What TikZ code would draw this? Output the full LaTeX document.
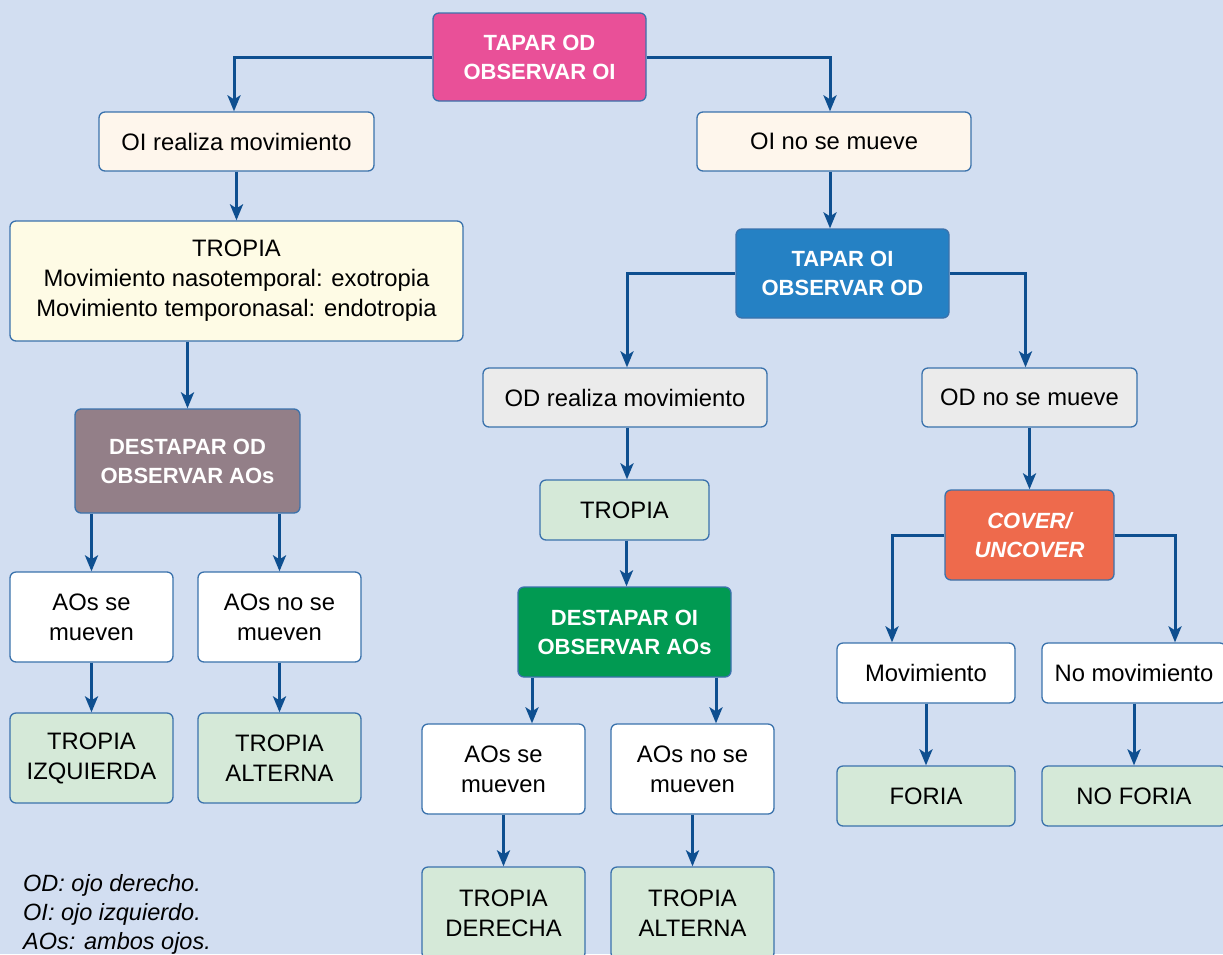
\documentclass[tikz,border=0pt]{standalone}
\usepackage{fontspec}
\setmainfont{Liberation Sans}
\usetikzlibrary{arrows.meta}
\definecolor{bg}{HTML}{D2DEF1}
\definecolor{bordc}{HTML}{3A72AC}
\definecolor{arrc}{HTML}{0E4F90}
\definecolor{pinkc}{HTML}{E95098}
\definecolor{creamc}{HTML}{FEF6EC}
\definecolor{yellowc}{HTML}{FEFBE5}
\definecolor{bluec}{HTML}{2581C4}
\definecolor{mauvec}{HTML}{937F88}
\definecolor{grayc}{HTML}{EBEBEB}
\definecolor{lgreenc}{HTML}{D5E9D8}
\definecolor{orangec}{HTML}{EE6A4C}
\definecolor{greenc}{HTML}{019A52}
\begin{document}
\begin{tikzpicture}[x=1pt,y=-1pt,
  box/.style={draw=bordc, line width=1.3pt, rounded corners=6pt, align=center, inner sep=0pt,
    font=\fontsize{23.8}{30}\selectfont, text=black},
  hbox/.style={box, font=\bfseries\fontsize{22}{29}\selectfont, text=white},
  arr/.style={draw=arrc, line width=3pt, -{Stealth[length=16pt,width=13pt,inset=4pt]}}]
\clip (0,0) rectangle (1223,954);
\fill[bg] (0,0) rectangle (1223,954);
% nodes
\node[hbox, fill=pinkc, minimum width=213pt, minimum height=88pt] (top) at (539.5,57) {TAPAR OD\\OBSERVAR OI};
\node[box, fill=creamc, minimum width=275pt, minimum height=59pt] (oir) at (236.5,141.5) {OI realiza movimiento};
\node[box, fill=creamc, minimum width=274pt, minimum height=59pt] (oin) at (834,141.5) {OI no se mueve};
\node[box, fill=yellowc, minimum width=453pt, minimum height=120pt] (tropA) at (236.5,281) {TROPIA\\Movimiento nasotemporal: exotropia\\Movimiento temporonasal: endotropia};
\node[hbox, fill=bluec, minimum width=213pt, minimum height=89pt] (tapB) at (842.5,273.5) {TAPAR OI\\OBSERVAR OD};
\node[hbox, fill=mauvec, minimum width=225pt, minimum height=104pt] (dod) at (187.5,461) {DESTAPAR OD\\OBSERVAR AOs};
\node[box, fill=grayc, minimum width=284pt, minimum height=59pt] (odr) at (625,397.5) {OD realiza movimiento};
\node[box, fill=grayc, minimum width=215pt, minimum height=59pt] (odn) at (1029.5,397.5) {OD no se mueve};
\node[box, fill=lgreenc, minimum width=169pt, minimum height=60pt] (tropB) at (624.5,510) {TROPIA};
\node[hbox, fill=orangec, minimum width=169pt, minimum height=90pt, font=\bfseries\itshape\fontsize{22}{29}\selectfont] (cov) at (1029.5,535) {COVER/\\UNCOVER};
\node[box, fill=white, minimum width=163pt, minimum height=90pt] (aosLa) at (91.5,617) {AOs se\\mueven};
\node[box, fill=white, minimum width=163pt, minimum height=90pt] (aosLb) at (279.5,617) {AOs no se\\mueven};
\node[hbox, fill=greenc, minimum width=213pt, minimum height=90pt] (doi) at (624.5,632) {DESTAPAR OI\\OBSERVAR AOs};
\node[box, fill=white, minimum width=178pt, minimum height=60pt] (mov) at (926,673) {Movimiento};
\node[box, fill=white, minimum width=184pt, minimum height=60pt] (nomov) at (1134,673) {No movimiento};
\node[box, fill=lgreenc, minimum width=163pt, minimum height=90pt] (tiz) at (91.5,758) {TROPIA\\IZQUIERDA};
\node[box, fill=lgreenc, minimum width=163pt, minimum height=90pt] (talA) at (279.5,758) {TROPIA\\ALTERNA};
\node[box, fill=white, minimum width=163pt, minimum height=90pt] (aosMa) at (503.5,769) {AOs se\\mueven};
\node[box, fill=white, minimum width=163pt, minimum height=90pt] (aosMb) at (692.5,769) {AOs no se\\mueven};
\node[box, fill=lgreenc, minimum width=178pt, minimum height=60pt] (foria) at (926,796) {FORIA};
\node[box, fill=lgreenc, minimum width=184pt, minimum height=60pt] (nofor) at (1134,796) {NO FORIA};
\node[box, fill=lgreenc, minimum width=163pt, minimum height=92pt] (tder) at (503.5,913) {TROPIA\\DERECHA};
\node[box, fill=lgreenc, minimum width=163pt, minimum height=92pt] (talB) at (692.5,913) {TROPIA\\ALTERNA};
\node[anchor=west, align=left, inner sep=0pt, font=\itshape\fontsize{23.5}{29}\selectfont] (leg) at (23,914) {OD: ojo derecho.\\OI: ojo izquierdo.\\AOs: ambos ojos.};
% connectors
\draw[arr] (top.west) -| ([xshift=-2.5pt]oir.north);
\draw[arr] (top.east) -| ([xshift=-4pt]oin.north);
\draw[arr] (oir.south) -- (tropA.north);
\draw[arr] ([xshift=-4pt]oin.south) -- ([xshift=-4pt]oin.south |- tapB.north);
\draw[arr] (tropA.south -| dod.north) -- (dod.north);
\draw[arr] (tapB.west) -| ([xshift=2pt]odr.north);
\draw[arr] (tapB.east) -| ([xshift=-4pt]odn.north);
\draw[arr] ([xshift=2pt]odr.south) -- ([xshift=2pt]odr.south |- tropB.north);
\draw[arr] ([xshift=2pt]tropB.south) -- ([xshift=2pt]tropB.south |- doi.north);
\draw[arr] (odn.south) -- (cov.north);
\draw[arr] (cov.west) -| ([xshift=-34pt]mov.north);
\draw[arr] (cov.east) -| ([xshift=41pt]nomov.north);
\draw[arr] (dod.south -| aosLa.north) -- (aosLa.north);
\draw[arr] (dod.south -| aosLb.north) -- (aosLb.north);
\draw[arr] (aosLa.south) -- (tiz.north);
\draw[arr] (aosLb.south) -- (talA.north);
\draw[arr] ([xshift=28.5pt]aosMa.north |- doi.south) -- ([xshift=28.5pt]aosMa.north);
\draw[arr] ([xshift=23.5pt]aosMb.north |- doi.south) -- ([xshift=23.5pt]aosMb.north);
\draw[arr] (aosMa.south) -- (tder.north);
\draw[arr] (aosMb.south) -- (talB.north);
\draw[arr] (mov.south) -- (foria.north);
\draw[arr] (nomov.south) -- (nofor.north);
\end{tikzpicture}
\end{document}
